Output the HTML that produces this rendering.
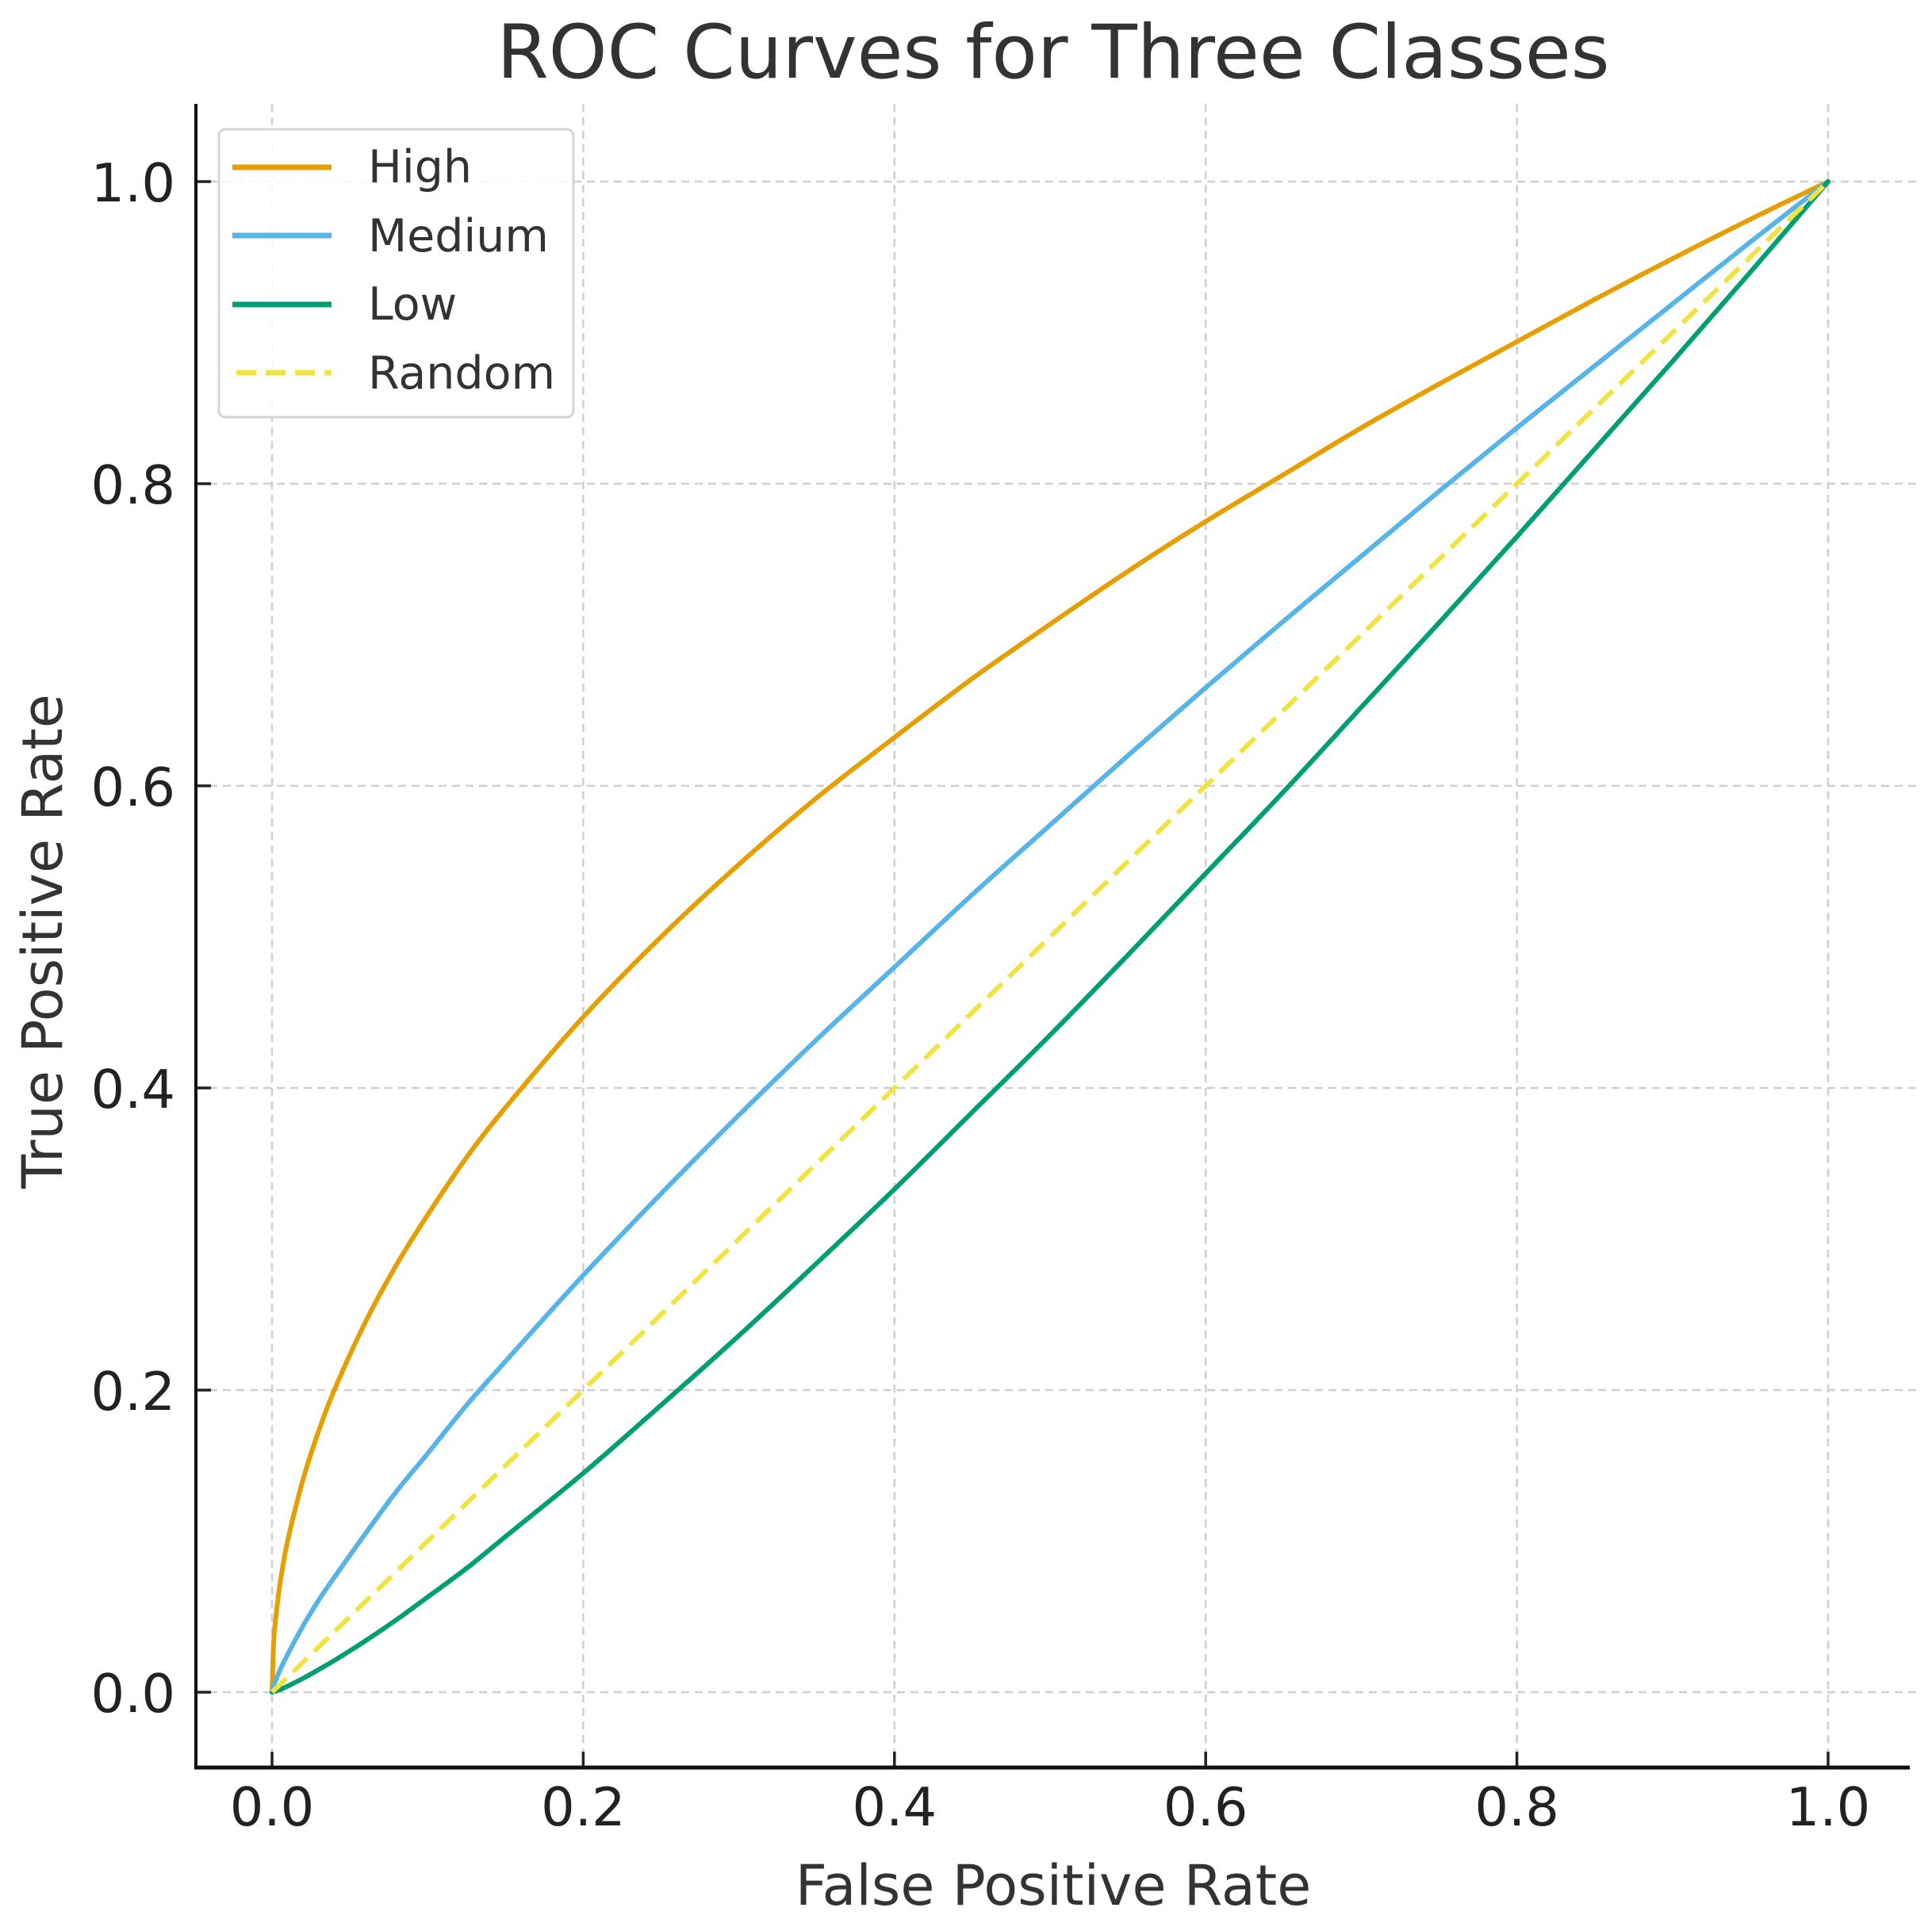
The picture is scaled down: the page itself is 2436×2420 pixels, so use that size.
<!DOCTYPE html>
<html><head><meta charset="utf-8"><style>
body{margin:0;background:#fff;}
svg{display:block;font-family:"DejaVu Sans","Liberation Sans",sans-serif;}
</style></head><body>
<svg id="chart" width="2436" height="2420" viewBox="0 0 2436 2420">
<rect width="2436" height="2420" fill="#fff"/>
<g id="grid"></g>
<g id="series"></g>
<g id="axes"></g>
<text x="1328" y="98" font-size="94" fill="#333" text-anchor="middle">ROC Curves for Three Classes</text>
<text x="1328" y="2402" font-size="70" fill="#333" text-anchor="middle">False Positive Rate</text>
<text transform="translate(78,1187) rotate(-90)" font-size="70" fill="#333" text-anchor="middle">True Positive Rate</text>
<g>
<rect x="276" y="163" width="447" height="363" rx="8" fill="#fff" fill-opacity="0.85" stroke="#d5d5d5" stroke-width="3"/>
<line x1="293" y1="211" x2="418" y2="211" stroke="#E69F00" stroke-width="7"/>
<text x="464" y="230" font-size="57" fill="#333">High</text>
<line x1="293" y1="297" x2="418" y2="297" stroke="#56B4E9" stroke-width="7"/>
<text x="464" y="317" font-size="57" fill="#333">Medium</text>
<line x1="293" y1="384" x2="418" y2="384" stroke="#009E73" stroke-width="7"/>
<text x="464" y="403" font-size="57" fill="#333">Low</text>
<line x1="298" y1="470" x2="418" y2="470" stroke="#F0E442" stroke-width="7" stroke-dasharray="25 12"/>
<text x="464" y="490" font-size="57" fill="#333">Random</text>
</g>
</svg>
<script>
const fpr = [0,0.001,0.002,0.005,0.01,0.02,0.03,0.04,0.06,0.08,0.1,0.125,0.15,0.2,0.25,0.3,0.35,0.4,0.45,0.5,0.55,0.6,0.65,0.7,0.75,0.8,0.85,0.9,0.95,1];
const tprHigh = [0,0.032,0.045,0.071,0.1,0.141,0.173,0.2,0.245,0.283,0.316,0.354,0.387,0.447,0.5,0.548,0.592,0.632,0.671,0.707,0.742,0.775,0.806,0.837,0.866,0.894,0.922,0.949,0.975,1];
const tprMedium = [0,0.004,0.007,0.0144,0.025,0.044,0.061,0.076,0.105,0.133,0.158,0.19,0.219,0.276,0.33,0.382,0.432,0.48,0.528,0.574,0.62,0.665,0.709,0.752,0.795,0.837,0.878,0.919,0.96,1];
const tprLow = [0,0.0003,0.0006,0.0017,0.004,0.0092,0.015,0.021,0.034,0.048,0.063,0.082,0.103,0.145,0.19,0.236,0.284,0.333,0.384,0.435,0.488,0.542,0.596,0.652,0.708,0.765,0.823,0.881,0.94,1];
const randomX = [0,1];
const randomY = [0,1];
const xTicks = [0,0.2,0.4,0.6,0.8,1.0];
const yTicks = [0,0.2,0.4,0.6,0.8,1.0];
const tickLabels = ["0.0","0.2","0.4","0.6","0.8","1.0"];

const NS="http://www.w3.org/2000/svg";
const X0=343,X1=2305,Y0=2134,Y1=229;
const SPL=247,SPB=2229,SPT=131,SPR=2408;
function sx(v){return X0+(X1-X0)*v;}
function sy(v){return Y0-(Y0-Y1)*v;}
function mk(tag,attrs,parent){const e=document.createElementNS(NS,tag);for(const k in attrs)e.setAttribute(k,attrs[k]);parent.appendChild(e);return e;}
const grid=document.getElementById('grid'),series=document.getElementById('series'),axes=document.getElementById('axes');

xTicks.forEach((t,i)=>{
  const g=mk('line',{x1:sx(t),x2:sx(t),y1:SPT,y2:SPB,stroke:'#cfcfcf','stroke-width':2.5,'stroke-dasharray':'10 7'},grid);
  
  
  const tk=mk('line',{x1:sx(t),x2:sx(t),y1:SPB-20,y2:SPB,stroke:'#222','stroke-width':3.5},axes);
  
  
  const tx=mk('text',{x:sx(t),y:2302,'font-size':67,fill:'#222','text-anchor':'middle'},axes);
  tx.textContent=tickLabels[i];
  
  
});
yTicks.forEach((t,i)=>{
  const g=mk('line',{x1:SPL,x2:2420,y1:sy(t),y2:sy(t),stroke:'#cfcfcf','stroke-width':2.5,'stroke-dasharray':'10 7'},grid);
  
  
  const tk=mk('line',{x1:SPL,x2:SPL+19,y1:sy(t),y2:sy(t),stroke:'#222','stroke-width':3.5},axes);
  
  
  const tx=mk('text',{x:221,y:sy(t)+25,'font-size':67,fill:'#222','text-anchor':'end'},axes);
  tx.textContent=tickLabels[i];
  
  
});
function smoothPath(xs,ys){
  const p=xs.map((x,i)=>[sx(x),sy(ys[i])]);
  let d='M'+p[0][0].toFixed(1)+','+p[0][1].toFixed(1);
  for(let i=0;i<p.length-1;i++){
    const p0=p[Math.max(0,i-1)],p1=p[i],p2=p[i+1],p3=p[Math.min(p.length-1,i+2)];
    const c1=[p1[0]+(p2[0]-p0[0])/6,p1[1]+(p2[1]-p0[1])/6];
    const c2=[p2[0]-(p3[0]-p1[0])/6,p2[1]-(p3[1]-p1[1])/6];
    d+=' C'+c1[0].toFixed(1)+','+c1[1].toFixed(1)+' '+c2[0].toFixed(1)+','+c2[1].toFixed(1)+' '+p2[0].toFixed(1)+','+p2[1].toFixed(1);
  }
  return d;
}
function line(xs,ys,color,name,dash){
  const a={d:smoothPath(xs,ys),fill:'none',stroke:color,'stroke-width':6,'stroke-linejoin':'round','stroke-linecap':'round'};
  if(dash){a['stroke-dasharray']=dash;a['stroke-linecap']='butt';}
  const p=mk('path',a,series);
  
  
}
line(fpr,tprHigh,'#E69F00','line-high');
line(fpr,tprMedium,'#56B4E9','line-medium');
line(fpr,tprLow,'#009E73','line-low');
line(randomX,randomY,'#F0E442','line-random','25 12');
const ls=mk('line',{x1:SPL,x2:SPL,y1:SPT,y2:SPB+2,stroke:'#111','stroke-width':4},axes);


const bs=mk('line',{x1:SPL-2,x2:SPR,y1:SPB,y2:SPB,stroke:'#111','stroke-width':5},axes);


</script>
</body></html>
